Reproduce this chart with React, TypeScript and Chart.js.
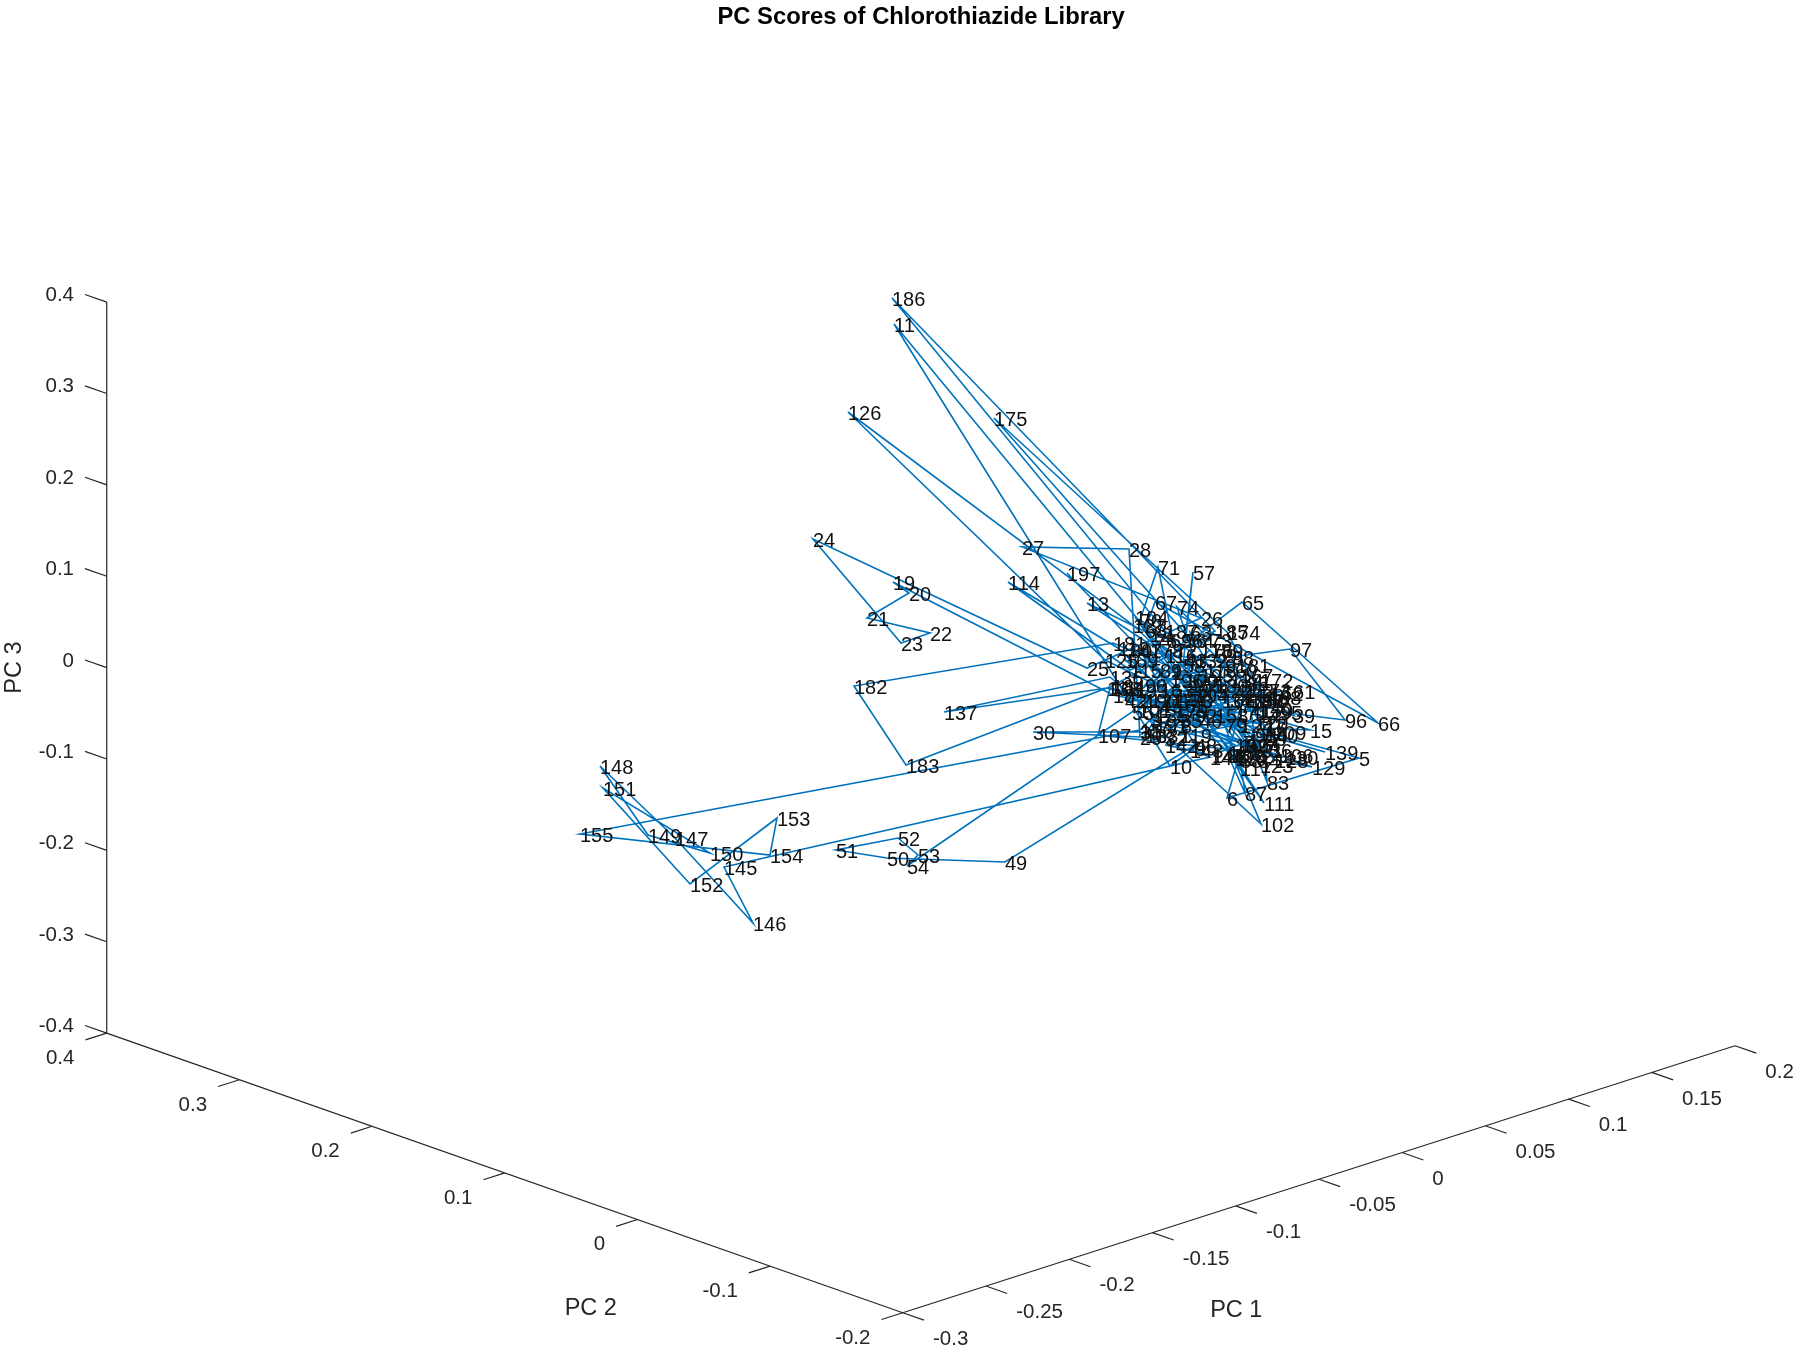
import React, { useEffect, useRef } from "react";
import { Chart, registerables } from "chart.js";

Chart.register(...registerables);

const chartTitle = "PC Scores of Chlorothiazide Library";
const axisNames = ["PC 1", "PC 2", "PC 3"];

// Scores 1..197 in plot order in the plane of the 3-D view
// (depth along the line of sight cannot be recovered from a single view).
const viewH = [
  0.037, 0.005, 0.11, 0.141, 0.224, 0.092, 0.108, 0.063, 0.06, 0.035,
  -0.241, 0.015, -0.048, 0.123, 0.175, 0.13, 0.13, -0.022, -0.242, -0.226,
  -0.268, -0.205, -0.234, -0.322, -0.048, 0.066, -0.113, -0.006, 0.005, -0.102,
  0.005, 0.03, 0.055, 0.095, 0.045, 0.135, 0.015, 0.127, 0.158, 0.135,
  0.115, -0.01, 0.05, 0.1, 0.025, 0.065, 0.005, 0.06, -0.13, -0.248,
  -0.299, -0.237, -0.217, -0.228, -0.003, 0.05, 0.058, 0.048, 0.08, 0.1,
  0.05, 0.117, 0.055, 0.057, 0.107, 0.243, 0.02, 0.01, 0.035, 0.005,
  0.023, 0.04, 0.075, 0.042, 0.07, 0.02, 0.105, 0.035, 0.09, -0.005,
  0.113, 0.127, 0.132, 0.123, 0.112, 0.093, 0.11, 0.105, 0.025, 0.01,
  0.09, 0.06, 0.12, 0.123, 0.145, 0.21, 0.155, 0.097, 0.13, 0.05,
  0.003, 0.126, 0.097, 0.0, 0.105, 0.145, -0.037, -0.025, 0.138, 0.1,
  0.129, 0.093, -0.017, -0.127, -0.005, 0.03, 0.105, 0.07, 0.045, 0.12,
  0.015, 0.085, 0.125, 0.105, -0.03, -0.287, -0.002, 0.14, 0.177, 0.15,
  0.115, 0.06, 0.01, 0.095, 0.02, -0.025, -0.191, -0.028, 0.19, 0.13,
  0.077, 0.03, 0.055, 0.075, -0.411, -0.382, -0.46, -0.535, -0.487, -0.425,
  -0.532, -0.445, -0.358, -0.365, -0.555, 0.005, 0.04, 0.08, 0.125, 0.12,
  0.147, 0.135, 0.025, 0.11, 0.055, 0.087, 0.105, 0.133, -0.01, 0.045,
  0.1, 0.125, 0.123, 0.092, -0.141, 0.065, 0.113, 0.015, 0.04, 0.08,
  -0.022, -0.281, -0.229, -0.023, 0.08, -0.243, 0.03, 0.115, 0.075, 0.01,
  0.02, 0.1, 0.0, 0.06, 0.065, 0.035, -0.068,
];
const viewV = [
  0.021, -0.007, -0.052, -0.042, -0.065, -0.105, -0.049, 0.003, -0.055, -0.073,
  0.369, 0.059, 0.09, -0.022, -0.037, -0.035, -0.032, -0.002, 0.111, 0.1,
  0.075, 0.06, 0.05, 0.154, 0.025, 0.075, 0.146, 0.144, -0.044, -0.039,
  -0.039, -0.045, -0.007, -0.007, -0.027, -0.057, -0.027, -0.002, -0.022, -0.015,
  -0.017, -0.007, 0.033, 0.003, -0.012, -0.027, 0.043, -0.052, -0.169, -0.165,
  -0.157, -0.145, -0.162, -0.173, -0.019, 0.053, 0.121, 0.028, 0.038, 0.023,
  -0.012, 0.003, 0.061, 0.053, 0.091, -0.03, 0.091, 0.063, 0.053, 0.073,
  0.126, 0.043, 0.053, 0.086, 0.003, 0.053, -0.012, -0.032, -0.032, 0.043,
  0.028, -0.007, -0.089, -0.067, 0.01, -0.062, -0.1, -0.067, 0.023, 0.008,
  0.028, -0.022, -0.042, -0.052, -0.019, -0.027, 0.044, 0.036, -0.045, 0.013,
  -0.017, -0.131, -0.062, 0.076, -0.052, -0.062, -0.042, 0.005, -0.039, -0.065,
  -0.11, -0.059, 0.045, 0.111, 0.023, 0.038, -0.075, 0.023, -0.042, -0.029,
  -0.007, 0.003, -0.072, -0.032, 0.033, 0.281, 0.068, -0.067, -0.074, -0.064,
  -0.057, 0.033, -0.042, 0.013, -0.022, 0.016, -0.019, 0.005, -0.059, -0.042,
  -0.062, -0.052, -0.057, -0.064, -0.174, -0.23, -0.145, -0.073, -0.142, -0.16,
  -0.095, -0.191, -0.125, -0.162, -0.141, -0.037, -0.002, -0.022, -0.017, -0.007,
  0.002, 0.0, 0.003, -0.002, 0.008, -0.007, 0.018, -0.004, 0.033, -0.007,
  -0.019, 0.013, 0.003, 0.061, 0.275, 0.043, -0.047, 0.043, -0.017, 0.008,
  0.05, 0.007, -0.072, 0.007, 0.062, 0.395, 0.062, -0.007, 0.043, -0.007,
  -0.032, -0.052, 0.003, -0.002, 0.018, 0.013, 0.12,
];

const pc1Ticks = [-0.3, -0.25, -0.2, -0.15, -0.1, -0.05, 0, 0.05, 0.1, 0.15, 0.2];
const pc2Ticks = [-0.2, -0.1, 0, 0.1, 0.2, 0.3, 0.4];
const pc3Ticks = [-0.4, -0.3, -0.2, -0.1, 0, 0.1, 0.2, 0.3, 0.4];

type P = { x: number; y: number };

// Orthographic view of the three PC axes onto the plane of the picture.
const project = (p1: number, p2: number, p3: number): P => ({
  x: 0.0018 + 1.6646 * p1 - 1.3267 * p2,
  y: -0.0008 + 0.534 * p1 + 0.466 * p2 + 0.91375 * p3,
});

const GAP: P = { x: NaN, y: NaN };

function buildFrame(): P[] {
  const pts: P[] = [];
  const seg = (a: P, b: P) => pts.push(a, b, GAP);
  seg(project(-0.3, -0.2, -0.4), project(0.2, -0.2, -0.4));
  seg(project(-0.3, -0.2, -0.4), project(-0.3, 0.4, -0.4));
  seg(project(-0.3, 0.4, -0.4), project(-0.3, 0.4, 0.4));
  pc1Ticks.forEach((t) => seg(project(t, -0.2, -0.4), project(t, -0.216, -0.4)));
  pc2Ticks.forEach((t) => seg(project(-0.3, t, -0.4), project(-0.3128, t, -0.4)));
  pc3Ticks.forEach((t) => seg(project(-0.3, 0.4, t), project(-0.3, 0.4164, t)));
  return pts;
}

const TEXT = "#262626";
const FONT = '"Liberation Sans", Arial, sans-serif';

const overlay = {
  id: "overlay",
  afterDatasetsDraw(chart: any) {
    const { ctx, scales } = chart;
    const px = (p: P) => ({ x: scales.x.getPixelForValue(p.x), y: scales.y.getPixelForValue(p.y) });
    ctx.save();
    ctx.textBaseline = "middle";

    // point labels
    ctx.font = `20px ${FONT}`;
    ctx.fillStyle = "#111";
    ctx.textAlign = "left";
    viewH.forEach((h, i) => {
      const q = px({ x: h, y: viewV[i] });
      ctx.fillText(String(i + 1), q.x, q.y + 2);
    });

    // tick labels
    ctx.fillStyle = TEXT;
    ctx.font = `20.5px ${FONT}`;
    ctx.textAlign = "left";
    pc1Ticks.forEach((t) => {
      const q = px(project(t, -0.216, -0.4));
      ctx.fillText(String(t), q.x + 9, q.y + 19);
    });
    ctx.textAlign = "right";
    pc2Ticks.forEach((t) => {
      const q = px(project(-0.3128, t, -0.4));
      ctx.fillText(String(t), q.x - 11, q.y + 18.5);
    });
    pc3Ticks.forEach((t) => {
      const q = px(project(-0.3, 0.4164, t));
      ctx.fillText(String(t), q.x - 11, q.y + 1);
    });

    // axis names
    ctx.textAlign = "center";
    ctx.font = `23.5px ${FONT}`;
    const a1 = px(project(-0.066, -0.2, -0.4));
    const a2 = px(project(-0.3, 0.1, -0.4));
    ctx.fillText(axisNames[0], a1.x - 56, a1.y + 123);
    ctx.fillText(axisNames[1], a2.x + 86, a2.y + 136);
    const a3 = px(project(-0.3, 0.4, 0));
    ctx.save();
    ctx.translate(a3.x - 92, a3.y);
    ctx.rotate(-Math.PI / 2);
    ctx.fillText(axisNames[2], 0, 0);
    ctx.restore();

    // title
    ctx.font = `bold 23.8px ${FONT}`;
    ctx.fillStyle = "#000";
    ctx.fillText(chartTitle, chart.width * 0.5117, 17);
    ctx.restore();
  },
};

export default function App() {
  const ref = useRef<HTMLCanvasElement>(null);
  useEffect(() => {
    document.body.style.margin = "0";
    document.body.style.background = "#fff";
    const chart = new Chart(ref.current!, {
      type: "scatter",
      data: {
        datasets: [
          {
            label: "Axes",
            data: buildFrame(),
            showLine: true,
            spanGaps: false,
            borderColor: "#262626",
            borderWidth: 1.2,
            pointRadius: 0,
            tension: 0,
          },
          {
            label: "PC scores",
            data: viewH.map((h, i) => ({ x: h, y: viewV[i] })),
            showLine: true,
            borderColor: "#0072BD",
            borderWidth: 1.6,
            pointRadius: 0,
            tension: 0,
          },
        ],
      },
      options: {
        responsive: false,
        animation: false,
        layout: { padding: 0 },
        plugins: { legend: { display: false }, tooltip: { enabled: false }, title: { display: false } },
        scales: {
          x: { type: "linear", display: false, min: -1.135, max: 0.665 },
          y: { type: "linear", display: false, min: -0.661, max: 0.693 },
        },
      },
      plugins: [overlay],
    } as any);
    return () => chart.destroy();
  }, []);
  return (
    <canvas
      ref={ref}
      width={1800}
      height={1354}
      style={{ display: "block", width: 1800, height: 1354, filter: "blur(0.5px)" }}
    />
  );
}
